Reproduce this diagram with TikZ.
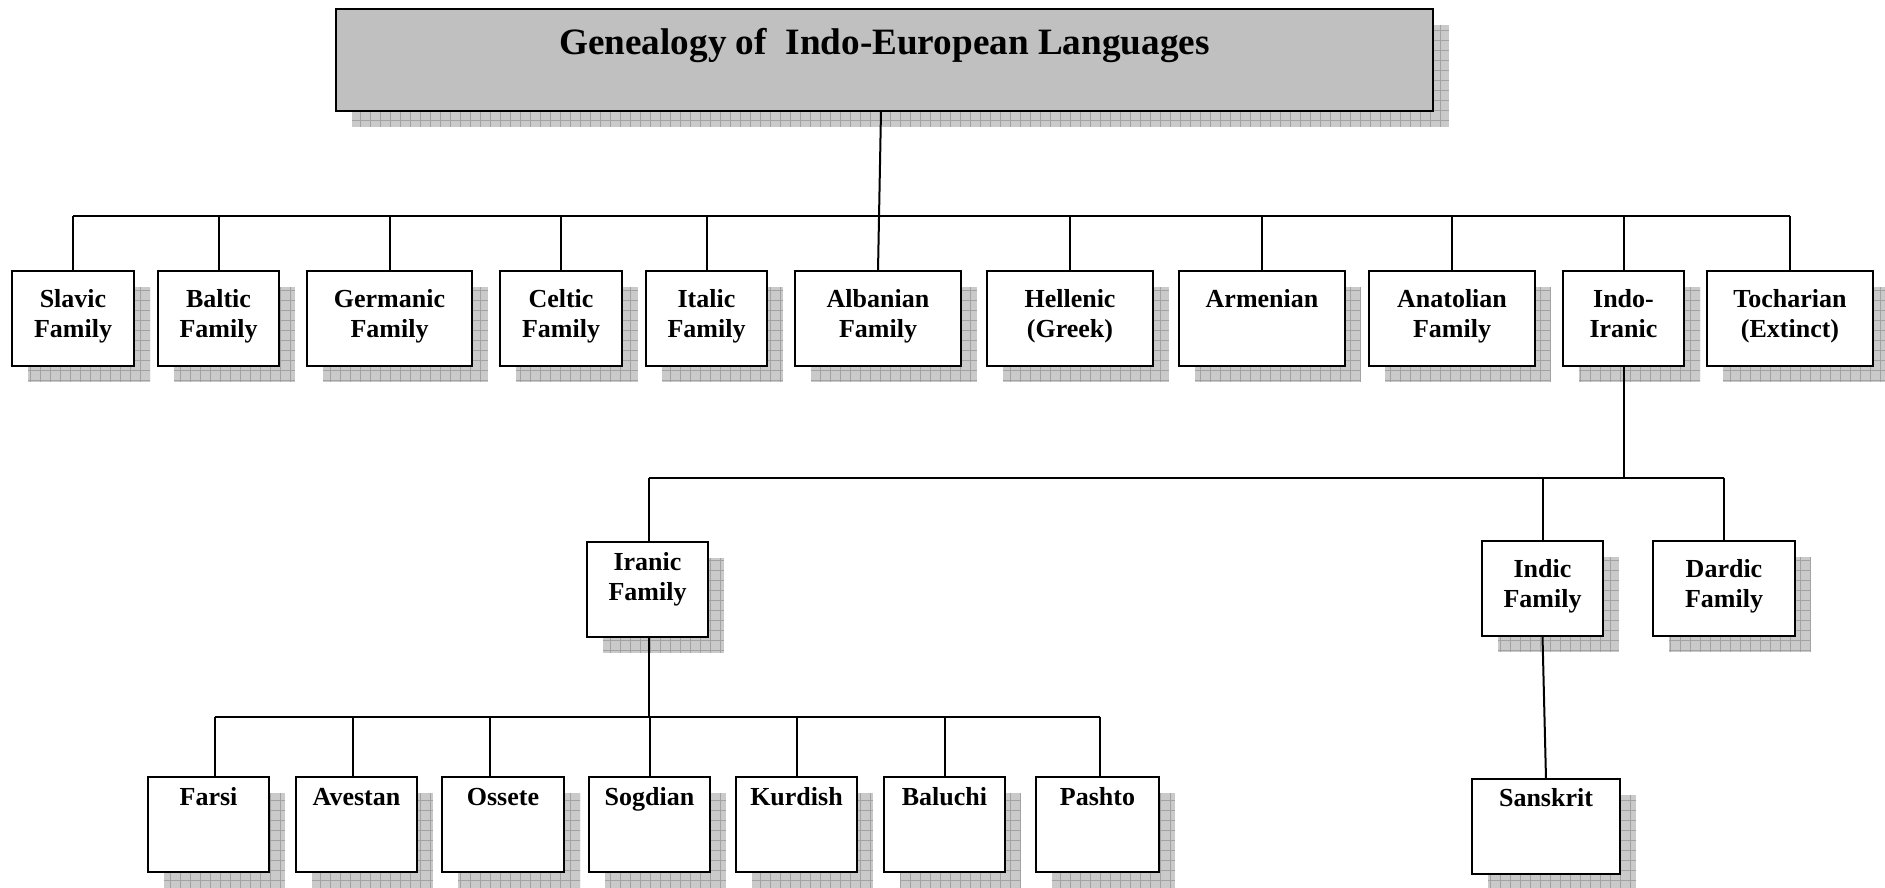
\documentclass[tikz,border=0pt]{standalone}
\usepackage{fontspec}
\setmainfont{Liberation Serif}
\usetikzlibrary{fit,calc}

\definecolor{titlegray}{HTML}{C0C0C0}
\definecolor{shadegray}{HTML}{CACACA}
\definecolor{shadeline}{HTML}{A2A2A2}

\tikzset{
  famframe/.style={draw=black, line width=1pt, fill=white, inner sep=0pt, outer sep=0pt},
  titleframe/.style={draw=black, line width=1.4pt, fill=titlegray, inner sep=0pt, outer sep=0pt},
  famtext/.style={inner sep=0pt, align=center, font=\fontsize{13}{15}\selectfont\bfseries},
  titletext/.style={inner sep=0pt, align=center, font=\fontsize{18.6}{21}\selectfont\bfseries},
  link/.style={draw=black, line width=1pt},
  shadebase/.style={fill=shadegray},
  shadegrid/.style={draw=shadeline, line width=0.3pt},
}

% #1 name, #2-#5 corners (x1,y1,x2,y2), #6 text, #7 text top offset, #8 style prefix
\newcommand\familybox[8]{%
  \begin{scope}
    \clip (#2+16,#3+16) rectangle (#4+16,#5+16);
    \fill[shadebase] (#2+16,#3+16) rectangle (#4+16,#5+16);
    \draw[shadegrid, step=5pt] (#2+16,#3+16) grid (#4+16,#5+16);
  \end{scope}
  \node[#8frame, fit={(#2,#3) (#4,#5)}] (#1) {};
  \node[#8text, anchor=north] (#1-t) at ({(#2+#4)/2},{#3+#7}) {\strut #6};
}

\begin{document}
\begin{tikzpicture}[x=0.5pt, y=-0.5pt]
\useasboundingbox (0,0) rectangle (1885,888);
\clip (0,0) rectangle (1885,888);
\fill[white] (0,0) rectangle (1885,888);

% title
\familybox{title}{336}{9}{1433}{111}{Genealogy of\ \ Indo-European Languages}{15.6}{title}

% first level: the branches
\familybox{slavic}{12}{271}{134}{366}{Slavic\\Family}{15}{fam}
\familybox{baltic}{158}{271}{279}{366}{Baltic\\Family}{15}{fam}
\familybox{germ}{307}{271}{472}{366}{Germanic\\Family}{15}{fam}
\familybox{celtic}{500}{271}{622}{366}{Celtic\\Family}{15}{fam}
\familybox{italic}{646}{271}{767}{366}{Italic\\Family}{15}{fam}
\familybox{alb}{795}{271}{961}{366}{Albanian\\Family}{15}{fam}
\familybox{hell}{987}{271}{1153}{366}{Hellenic\\(Greek)}{15}{fam}
\familybox{arm}{1179}{271}{1345}{366}{Armenian}{15}{fam}
\familybox{anat}{1369}{271}{1535}{366}{Anatolian\\Family}{15}{fam}
\familybox{indo}{1563}{271}{1684}{366}{Indo-\\Iranic}{15}{fam}
\familybox{toch}{1707}{271}{1873}{366}{Tocharian\\(Extinct)}{15}{fam}

% second level: Indo-Iranic
\familybox{iranic}{587}{542}{708}{637}{Iranic\\Family}{7}{fam}
\familybox{indic}{1482}{541}{1603}{636}{Indic\\Family}{15}{fam}
\familybox{dardic}{1653}{541}{1795}{636}{Dardic\\Family}{15}{fam}

% third level: Iranic and Indic languages
\familybox{farsi}{148}{777}{269}{872}{Farsi}{7}{fam}
\familybox{avestan}{296}{777}{417}{872}{Avestan}{7}{fam}
\familybox{ossete}{442}{777}{564}{872}{Ossete}{7}{fam}
\familybox{sogdian}{589}{777}{710}{872}{Sogdian}{7}{fam}
\familybox{kurdish}{736}{777}{857}{872}{Kurdish}{7}{fam}
\familybox{baluchi}{884}{777}{1005}{872}{Baluchi}{7}{fam}
\familybox{pashto}{1036}{777}{1159}{872}{Pashto}{7}{fam}
\familybox{sanskrit}{1472}{779}{1620}{874}{Sanskrit}{6}{fam}

% horizontal rails
\coordinate (bar1) at (0,216);
\coordinate (bar2) at (0,478);
\coordinate (bar3) at (0,717);

% stems into the third-level boxes
\coordinate (farsi-in) at ($(farsi.north)+(6,0)$);
\coordinate (avestan-in) at ($(avestan.north)+(-4,0)$);
\coordinate (ossete-in) at ($(ossete.north)+(-13,0)$);
\coordinate (sogdian-in) at (sogdian.north);
\coordinate (kurdish-in) at (kurdish.north);
\coordinate (baluchi-in) at (baluchi.north);
\coordinate (pashto-in) at ($(pashto.north)+(2,0)$);

% title to the first level
\draw[link] ($(title.south)+(-3.5,0)$) -- (alb.north);
\draw[link] (slavic.north |- bar1) -- (toch.north |- bar1);
\foreach \n in {slavic,baltic,germ,celtic,italic,hell,arm,anat,indo,toch}
  \draw[link] (\n.north) -- (\n.north |- bar1);

% Indo-Iranic branches
\draw[link] (indo.south) -- (indo.south |- bar2);
\draw[link] ($(iranic.north |- bar2)+(1.5,0)$) -- (dardic.north |- bar2);
\draw[link] ($(iranic.north)+(1.5,0)$) -- ($(iranic.north |- bar2)+(1.5,0)$);
\draw[link] (indic.north) -- (indic.north |- bar2);
\draw[link] (dardic.north) -- (dardic.north |- bar2);
\draw[link] (indic.south) -- (sanskrit.north);

% Iranic languages
\draw[link] ($(iranic.south)+(1.5,0)$) -- ($(iranic.south |- bar3)+(1.5,0)$);
\draw[link] (farsi-in |- bar3) -- (pashto-in |- bar3);
\foreach \n in {farsi,avestan,ossete,sogdian,kurdish,baluchi,pashto}
  \draw[link] (\n-in) -- (\n-in |- bar3);
\end{tikzpicture}
\end{document}
